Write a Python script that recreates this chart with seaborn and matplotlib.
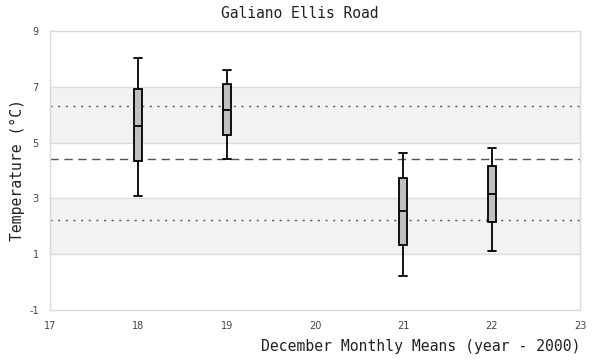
import matplotlib
matplotlib.use("Agg")
import matplotlib.pyplot as plt
import numpy as np
import pandas as pd
import seaborn as sns

# December monthly means, five-number summary per year (year - 2000)
years = [18, 19, 21, 22]
lows = [3.1, 4.4, 0.2, 1.1]
q1s = [4.34, 5.26, 1.32, 2.15]
medians = [5.61, 6.16, 2.54, 3.16]
q3s = [6.91, 7.09, 3.72, 4.15]
highs = [8.02, 7.61, 4.62, 4.80]

# reference lines
mean_line = 4.41
upper_line = 6.31
lower_line = 2.23

# long-form table: five values per year give exact quartiles / whiskers
rows = []
for i, yr in enumerate(years):
    for v in (lows[i], q1s[i], medians[i], q3s[i], highs[i]):
        rows.append({"year": yr, "temp": v})
df = pd.DataFrame(rows)

sns.set_style("white")
plt.rcParams["font.family"] = ["DejaVu Sans"]
plt.rcParams["axes.unicode_minus"] = False
mono = ["DejaVu Sans Mono"]

fig = plt.figure(figsize=(6, 3.6), dpi=100)
ax = fig.add_axes([0.083, 0.139, 0.884, 0.775])

# background bands and grid
for lo, hi in [(5, 7), (1, 3)]:
    ax.axhspan(lo, hi, color="#f2f2f2", zorder=0, lw=0)
for yv in [1, 3, 5, 7]:
    ax.axhline(yv, color="#dcdcdc", lw=1, zorder=0.5)

ax.axhline(upper_line, color="#555555", lw=1, ls=(0, (1.5, 4)), zorder=1)
ax.axhline(lower_line, color="#555555", lw=1, ls=(0, (1.5, 4)), zorder=1)
ax.axhline(mean_line, color="#555555", lw=1, ls=(0, (6, 4)), zorder=1)

sns.boxplot(data=df, x="year", y="temp", native_scale=True, whis=np.inf,
            width=0.09, color="#c0c0c0", saturation=1, linecolor="black",
            linewidth=1.3, showfliers=False, ax=ax, zorder=3,
            capwidths=0.09)

ax.set_xlim(17, 23)
ax.set_ylim(-1, 9)
ax.set_xticks(range(17, 24))
ax.set_yticks([-1, 1, 3, 5, 7, 9])
ax.tick_params(length=0, labelsize=7, labelcolor="#444444")
ax.tick_params(axis="y", pad=8)
ax.tick_params(axis="x", pad=8)
for s in ax.spines.values():
    s.set_color("#d9d9d9")
    s.set_linewidth(1)

fig.text(0.5, 1 - 14 / 360, "Galiano Ellis Road", family=mono, fontsize=10.5,
         color="#222222", ha="center", va="center")
ax.set_xlabel("December Monthly Means (year - 2000)", family=mono, fontsize=10.6,
              color="#222222", loc="right", labelpad=6)
ax.set_ylabel("Temperature (°C)", family=mono, fontsize=10.6, color="#222222")
ax.yaxis.set_label_coords(-0.047, 0.5)

fig.savefig("out.png", dpi=100)
